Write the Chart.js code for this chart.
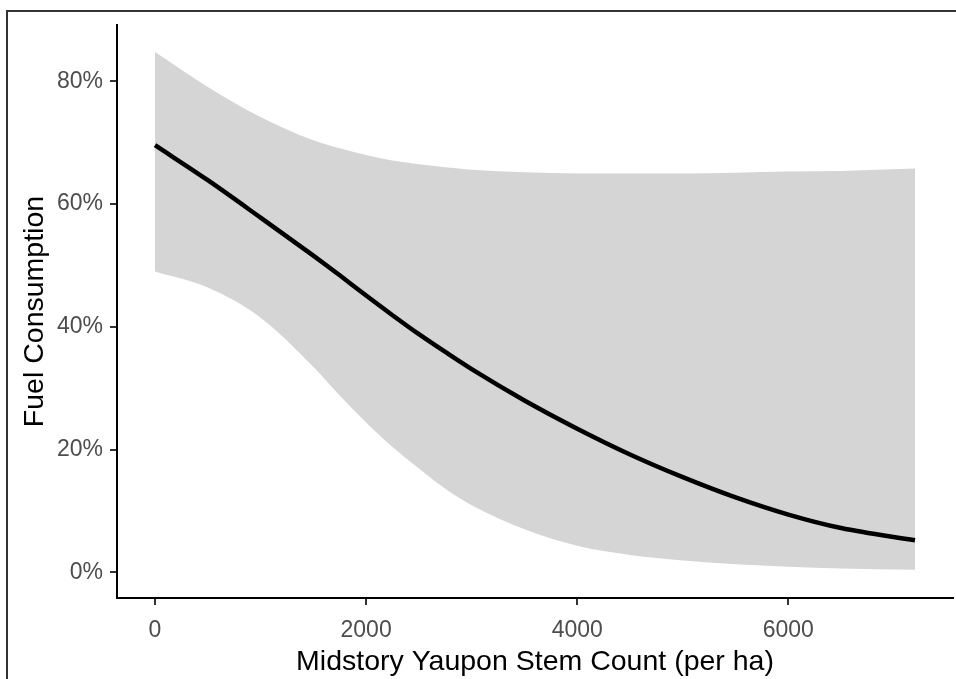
<!DOCTYPE html>
<html>
<head>
<meta charset="utf-8">
<script src="https://cdn.jsdelivr.net/npm/chart.js@4"></script>
<style>
  html, body { margin: 0; padding: 0; background: #fff; }
  #wrap { position: relative; width: 956px; height: 679px; }
  #frame { position: absolute; left: 6px; top: 10px; right: -4px; bottom: -4px;
           border: 2px solid #333; pointer-events: none; }
</style>
</head>
<body>
<div id="wrap">
  <canvas id="chart" width="956" height="679"></canvas>
  <div id="frame"></div>
</div>
<script>
// stem counts (per ha) and predicted fuel consumption (%) with confidence band
const stemCounts = [0, 500, 1000, 1500, 1750, 2000, 2250, 2500, 2750, 3000, 3500, 4000, 4500, 5000, 5500, 6000, 6500, 7200];
const fitted = [69.6, 63.9, 57.8, 51.6, 48.4, 45.1, 41.9, 38.8, 35.9, 33.1, 28.0, 23.4, 19.2, 15.5, 12.2, 9.4, 7.2, 5.2];
const upper = [84.8, 79.1, 74.2, 70.4, 69.1, 68.0, 67.1, 66.5, 66.0, 65.6, 65.2, 65.0, 65.0, 65.0, 65.1, 65.3, 65.4, 65.8];
const lower = [49.0, 46.4, 41.5, 33.5, 28.8, 24.4, 20.4, 16.9, 13.6, 10.9, 7.0, 4.3, 2.8, 1.9, 1.3, 0.9, 0.6, 0.4];
const xTicks = [0, 2000, 4000, 6000];
const yTicks = [0, 20, 40, 60, 80];

const pts = arr => stemCounts.map((x, i) => ({ x: x, y: arr[i] }));

const tickFont = { family: 'Liberation Sans, Arial, sans-serif', size: 23 };
const titleFont = { family: 'Liberation Sans, Arial, sans-serif', size: 28.5 };

new Chart(document.getElementById('chart'), {
    type: 'line',
    data: {
        datasets: [
            {
                label: 'fit',
                data: pts(fitted),
                borderColor: '#000',
                borderWidth: 4.5,
                pointRadius: 0,
                cubicInterpolationMode: 'monotone',
                fill: false
            },
            {
                label: 'upper',
                data: pts(upper),
                borderWidth: 0,
                borderColor: 'rgba(0,0,0,0)',
                backgroundColor: '#d5d5d5',
                pointRadius: 0,
                cubicInterpolationMode: 'monotone',
                fill: '+1'
            },
            {
                label: 'lower',
                data: pts(lower),
                borderWidth: 0,
                borderColor: 'rgba(0,0,0,0)',
                pointRadius: 0,
                cubicInterpolationMode: 'monotone',
                fill: false
            }
        ]
    },
    options: {
        responsive: false,
        animation: false,
        layout: { padding: { top: 25, right: 3 } },
        plugins: { legend: { display: false }, tooltip: { enabled: false } },
        scales: {
            x: {
                type: 'linear',
                min: -360,
                max: 7560,
                afterBuildTicks: s => { s.ticks = xTicks.map(v => ({ value: v })); },
                afterFit: s => { s.height = 81; },
                grid: { drawOnChartArea: false, drawTicks: true, tickLength: 7, color: '#333', lineWidth: 2 },
                border: { display: true, color: '#000', width: 2 },
                ticks: { color: '#4d4d4d', font: tickFont, padding: 12, maxRotation: 0, callback: v => String(v) },
                title: { display: true, text: 'Midstory Yaupon Stem Count (per ha)', color: '#000',
                         font: titleFont, padding: { top: 0, bottom: 0 } }
            },
            y: {
                min: -4.2,
                max: 89.2,
                afterBuildTicks: s => { s.ticks = yTicks.map(v => ({ value: v })); },
                afterFit: s => { s.width = 117; },
                grid: { drawOnChartArea: false, drawTicks: true, tickLength: 7, color: '#333', lineWidth: 2 },
                border: { display: true, color: '#000', width: 2 },
                ticks: { color: '#4d4d4d', font: tickFont, padding: 7, callback: v => v + '%' },
                title: { display: true, text: 'Fuel Consumption', color: '#000',
                         font: titleFont, padding: { top: 18, bottom: 0 } }
            }
        }
    }
});
</script>
</body>
</html>
